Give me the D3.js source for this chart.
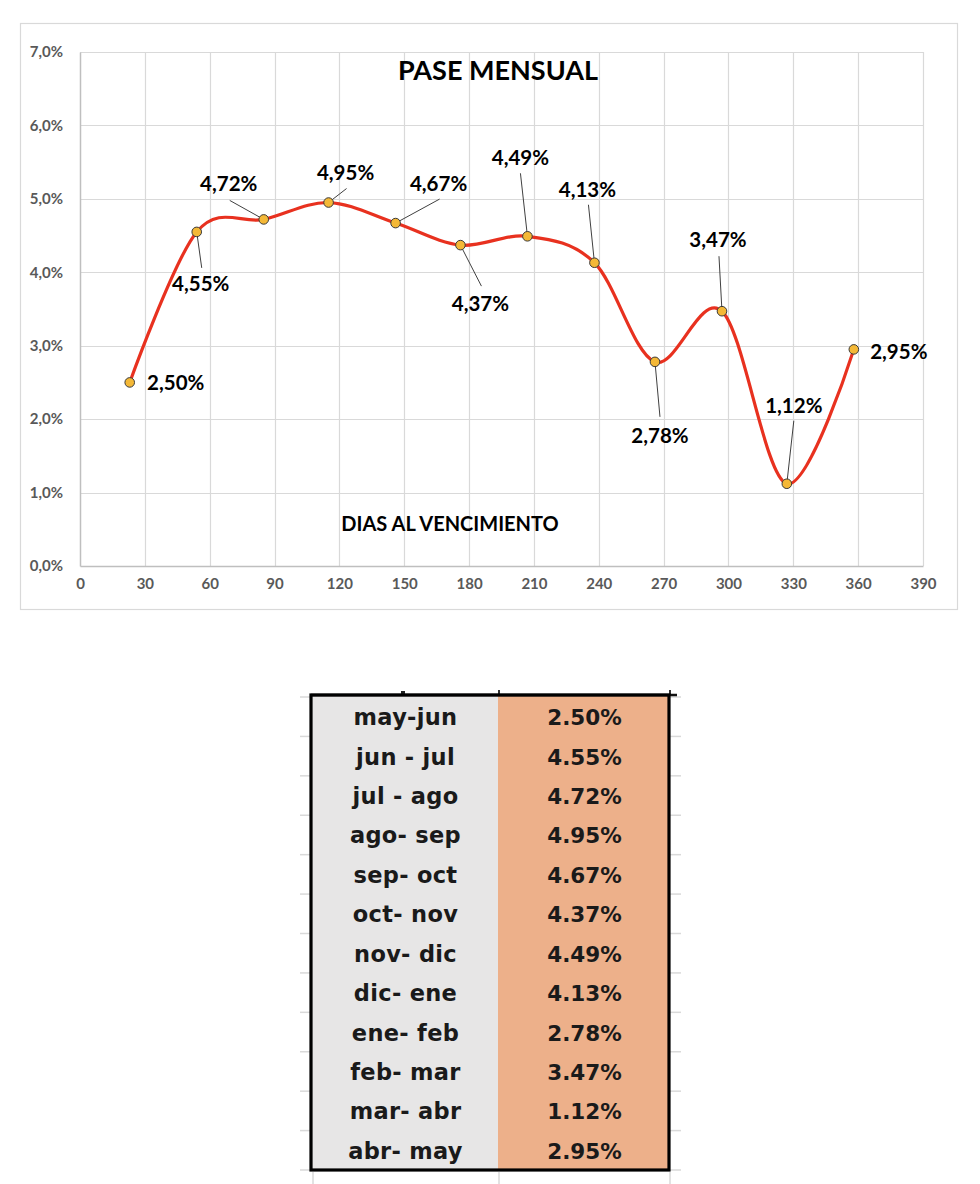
<!DOCTYPE html>
<html>
<head>
<meta charset="utf-8">
<script src="https://cdn.jsdelivr.net/npm/d3@7"></script>
<style>
  html, body { margin: 0; padding: 0; background: #ffffff; }
  svg { display: block; }
</style>
</head>
<body>
<svg id="chart" width="980" height="1184"></svg>
<script>
// ---------------- DATA ----------------
const periods = ["may-jun", "jun - jul", "jul - ago", "ago- sep", "sep- oct", "oct- nov",
                 "nov- dic", "dic- ene", "ene- feb", "feb- mar", "mar- abr", "abr- may"];
const days = [23, 54, 85, 115, 146, 176, 207, 238, 266, 297, 327, 358];
const pase = [2.50, 4.55, 4.72, 4.95, 4.67, 4.37, 4.49, 4.13, 2.78, 3.47, 1.12, 2.95];
const xTicks = [0, 30, 60, 90, 120, 150, 180, 210, 240, 270, 300, 330, 360, 390];
const yTicks = [0, 1, 2, 3, 4, 5, 6, 7];
const chartTitle = "PASE MENSUAL";
const xAxisTitle = "DIAS AL VENCIMIENTO";

// label layout (pixel offsets of label centre and leader end from each point)
const labelLayout = [
  { dx: 46, dy: 1, lead: null },
  { dx: 4, dy: 52, lead: [5, 36] },
  { dx: -35, dy: -35, lead: [-34, -19] },
  { dx: 17, dy: -30, lead: [18, -14] },
  { dx: 43, dy: -39, lead: [44, -24] },
  { dx: 20, dy: 59, lead: [21, 41] },
  { dx: -7, dy: -78, lead: [-7, -63] },
  { dx: -7, dy: -73, lead: [-6, -58] },
  { dx: 5, dy: 74, lead: [5, 55] },
  { dx: -4, dy: -71, lead: [-3, -55] },
  { dx: 7, dy: -78, lead: [7, -63] },
  { dx: 45, dy: 3, lead: null }
];

// ---------------- CHART ----------------
const svg = d3.select("#chart");
const esLocale = d3.formatLocale({ decimal: ",", thousands: ".", grouping: [3], currency: ["", "€"] });
const fmtLabel = v => esLocale.format(".2f")(v) + "%";
const fmtTick = v => esLocale.format(".1f")(v) + "%";

const plot = { left: 80, right: 923, top: 52, bottom: 566 };
const x = d3.scaleLinear().domain([0, 390]).range([plot.left, plot.right]);
const y = d3.scaleLinear().domain([0, 7]).range([plot.bottom, plot.top]);

const chartFont = "Lato, 'Open Sans', sans-serif";

// outer chart frame
svg.append("rect")
  .attr("x", 20.5).attr("y", 23.5).attr("width", 937).attr("height", 586)
  .attr("fill", "#fff").attr("stroke", "#d9d9d9").attr("stroke-width", 1.2);

// gridlines
const grid = svg.append("g");
grid.selectAll("line.h").data(yTicks.filter(t => t > 0)).join("line")
  .attr("x1", plot.left).attr("x2", plot.right)
  .attr("y1", d => Math.round(y(d)) + 0.5).attr("y2", d => Math.round(y(d)) + 0.5)
  .attr("stroke", "#d9d9d9").attr("stroke-width", 1.2);
grid.selectAll("line.v").data(xTicks.filter(t => t > 0)).join("line")
  .attr("y1", plot.top).attr("y2", plot.bottom)
  .attr("x1", d => Math.round(x(d)) + 0.5).attr("x2", d => Math.round(x(d)) + 0.5)
  .attr("stroke", "#d9d9d9").attr("stroke-width", 1.2);

// axes via d3 axis generators
const yAxis = svg.append("g").attr("transform", `translate(${plot.left},0)`)
  .call(d3.axisLeft(y).tickValues(yTicks).tickFormat(fmtTick).tickSize(0).tickPadding(17));
const xAxis = svg.append("g").attr("transform", `translate(0,${plot.bottom})`)
  .call(d3.axisBottom(x).tickValues(xTicks).tickFormat(d3.format("d")).tickSize(0).tickPadding(12));
[yAxis, xAxis].forEach(a => {
  a.select(".domain").attr("stroke", "#bfbfbf").attr("stroke-width", 1.5);
  a.selectAll("text")
    .attr("font-family", chartFont).attr("font-weight", 700)
    .attr("font-size", 15).attr("fill", "#595959");
});

// title
svg.append("text").attr("x", 498).attr("y", 80).attr("text-anchor", "middle")
  .attr("font-family", chartFont).attr("font-weight", 700).attr("font-size", 27)
  .attr("fill", "#000").text(chartTitle);
svg.append("text").attr("x", 450).attr("y", 531).attr("text-anchor", "middle")
  .attr("font-family", chartFont).attr("font-weight", 700).attr("font-size", 20)
  .attr("fill", "#000").text(xAxisTitle);

// smoothed line
const pts = days.map((d, i) => [x(d), y(pase[i])]);
const line = d3.line().curve(d3.curveCardinal.tension(0));
svg.append("path").attr("d", line(pts))
  .attr("fill", "none").attr("stroke", "#e8311f").attr("stroke-width", 3.2)
  .attr("stroke-linecap", "round");

// leader lines
svg.append("g").selectAll("line").data(pts.map((p, i) => ({ p, l: labelLayout[i] })).filter(d => d.l.lead))
  .join("line")
  .attr("x1", d => d.p[0]).attr("y1", d => d.p[1])
  .attr("x2", d => d.p[0] + d.l.lead[0]).attr("y2", d => d.p[1] + d.l.lead[1])
  .attr("stroke", "#404040").attr("stroke-width", 1);

// markers
svg.append("g").selectAll("circle").data(pts).join("circle")
  .attr("cx", d => d[0]).attr("cy", d => d[1]).attr("r", 4.8)
  .attr("fill", "#f4b836").attr("stroke", "#3a3a3a").attr("stroke-width", 1);

// data labels
svg.append("g").selectAll("text").data(pts).join("text")
  .attr("x", (d, i) => d[0] + labelLayout[i].dx)
  .attr("y", (d, i) => d[1] + labelLayout[i].dy + 7)
  .attr("text-anchor", "middle")
  .attr("font-family", chartFont).attr("font-weight", 700).attr("font-size", 20.5)
  .attr("fill", "#000")
  .text((d, i) => fmtLabel(pase[i]));

// ---------------- TABLE ----------------
const tbl = { left: 311, mid: 498, right: 669, top: 695, bottom: 1170 };
const rowScale = d3.scaleBand().domain(periods).range([tbl.top + 2, tbl.bottom]).padding(0);
const tableFont = "'DejaVu Sans', Verdana, sans-serif";
const fmtTable = v => d3.format(".2f")(v) + "%";

// faint sheet gridline stubs outside the table
const stubs = svg.append("g").attr("stroke", "#d9d9d9").attr("stroke-width", 1.5);
const boundaries = periods.map(p => rowScale(p)).concat([tbl.bottom]);
stubs.selectAll("line.l").data(boundaries).join("line")
  .attr("x1", 300).attr("x2", tbl.left).attr("y1", d => d).attr("y2", d => d);
stubs.selectAll("line.r").data(boundaries).join("line")
  .attr("x1", tbl.right).attr("x2", 681).attr("y1", d => d).attr("y2", d => d);
stubs.selectAll("line.b").data([313, tbl.mid + 1, tbl.right + 1]).join("line")
  .attr("x1", d => d).attr("x2", d => d).attr("y1", tbl.bottom + 2).attr("y2", 1184);

// column fills
svg.append("rect").attr("x", tbl.left).attr("y", tbl.top)
  .attr("width", tbl.mid - tbl.left).attr("height", tbl.bottom - tbl.top).attr("fill", "#e7e6e6");
svg.append("rect").attr("x", tbl.mid).attr("y", tbl.top)
  .attr("width", tbl.right - tbl.mid).attr("height", tbl.bottom - tbl.top).attr("fill", "#edb08a");

// header stubs above the table
const hdr = svg.append("g").attr("stroke", "#000").attr("stroke-width", 1.6);
hdr.selectAll("line").data([tbl.mid + 1, tbl.right + 1]).join("line")
  .attr("x1", d => d).attr("x2", d => d).attr("y1", 690).attr("y2", tbl.top);
svg.append("line").attr("x1", tbl.left).attr("x2", 677).attr("y1", tbl.top).attr("y2", tbl.top)
  .attr("stroke", "#111").attr("stroke-width", 2.5);
svg.append("rect").attr("x", 401).attr("y", 691).attr("width", 4).attr("height", 3).attr("fill", "#222");

// outer thick border
svg.append("rect").attr("x", tbl.left).attr("y", tbl.top)
  .attr("width", tbl.right - tbl.left).attr("height", tbl.bottom - tbl.top)
  .attr("fill", "none").attr("stroke", "#000").attr("stroke-width", 3.2);

// table text
const rows = svg.append("g").selectAll("g").data(periods).join("g")
  .attr("transform", p => `translate(0,${rowScale(p) + rowScale.bandwidth() / 2})`);
rows.append("text").attr("x", (tbl.left + tbl.mid) / 2 + 1).attr("y", 8.5)
  .attr("text-anchor", "middle").attr("font-family", tableFont).attr("font-weight", 700)
  .attr("font-size", 22.5).attr("letter-spacing", 0.3).attr("fill", "#1a1a1a").text(p => p);
rows.append("text").attr("x", (tbl.mid + tbl.right) / 2 + 1).attr("y", 8.5)
  .attr("text-anchor", "middle").attr("font-family", tableFont).attr("font-weight", 700)
  .attr("font-size", 21.5).attr("fill", "#1a1a1a").text((p, i) => fmtTable(pase[i]));
</script>
</body>
</html>
